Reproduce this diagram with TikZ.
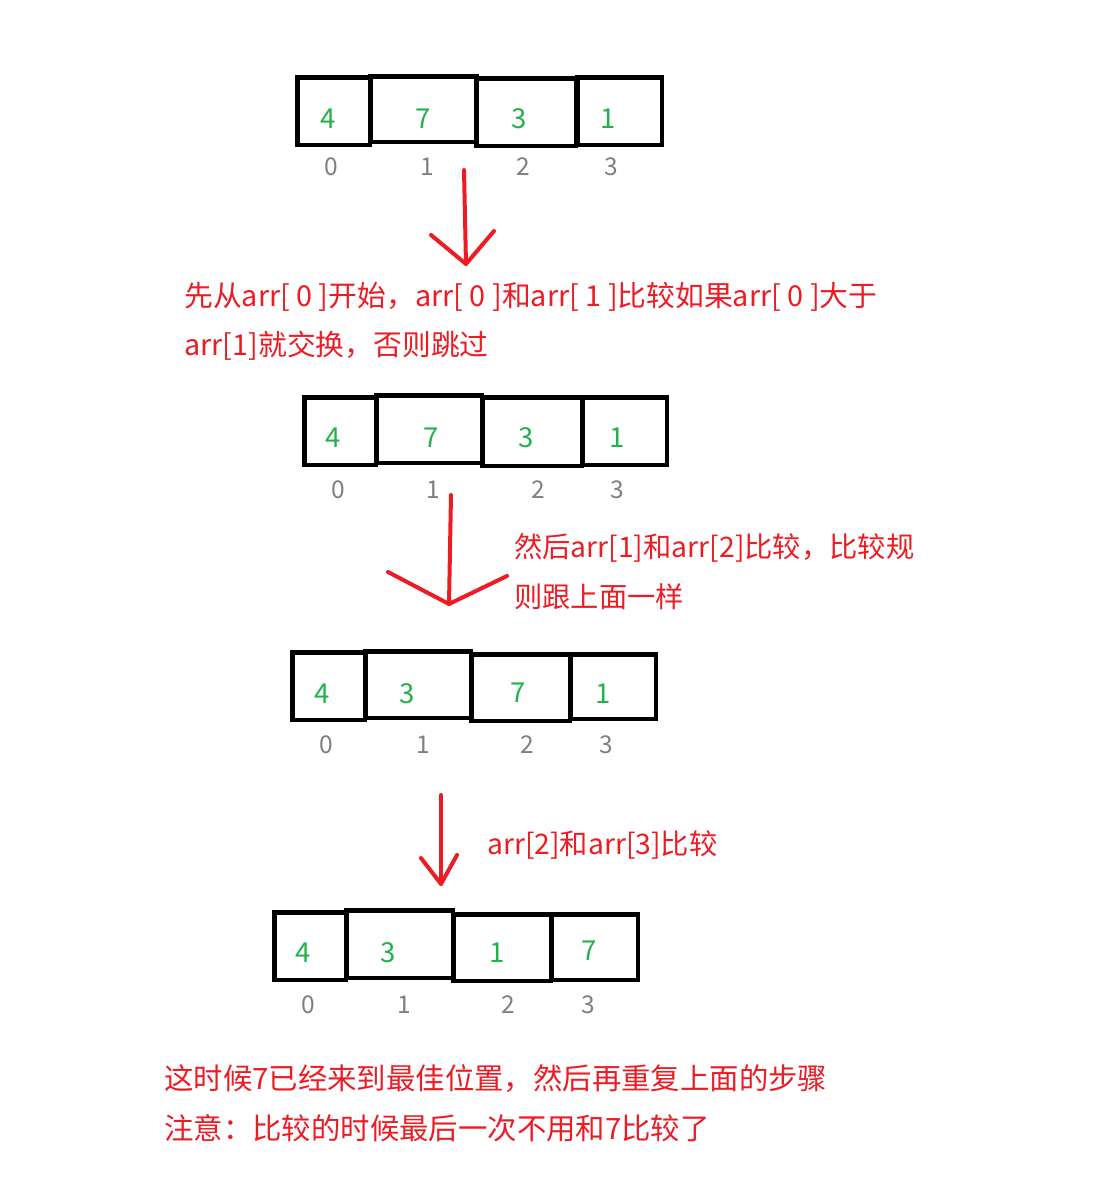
\documentclass[tikz,border=0pt]{standalone}
\usepackage{fontspec}
\setmainfont{Noto Sans CJK SC}
\definecolor{myred}{HTML}{ED1C24}
\definecolor{mygreen}{HTML}{22B14C}
\definecolor{mygray}{HTML}{7F7F7F}
\newcommand\cellbox[5]{\node[cell,minimum width={#4-#2-4.5},minimum height={#5-#3-4.5}] (#1) at ({(#2+#4)/2},{(#3+#5)/2}) {};}
\begin{document}
\begin{tikzpicture}[x=1pt,y=-1pt,
  cell/.style={draw=black,line width=4.5pt,inner sep=0pt,outer sep=0pt},
  val/.style={text=mygreen,inner sep=0pt,font=\fontsize{27.5}{27.5}\selectfont},
  idx/.style={text=mygray,inner sep=0pt,font=\fontsize{24.5}{24.5}\selectfont},
  note/.style={text=myred,inner sep=0pt,anchor=west,font=\fontsize{28.3}{28.3}\selectfont},
  bignote/.style={note,font=\fontsize{29.4}{29.4}\selectfont},
  redline/.style={draw=myred,line width=4pt,line cap=round,line join=round}]
\useasboundingbox (0,0) rectangle (1111,1192);
% array 1
\cellbox{a1c0}{295}{75}{372}{147}
\cellbox{a1c1}{368}{74}{479}{144}
\cellbox{a1c2}{474}{76}{578}{148}
\cellbox{a1c3}{575}{75}{664}{147}
\node[val] (a1v0) at (328,119) {4};
\node[val] (a1v1) at (423,119) {7};
\node[val] (a1v2) at (519,119) {3};
\node[val] (a1v3) at (608,119) {1};
\node[idx] (a1i0) at (331,167) {0};
\node[idx] (a1i1) at (427,167) {1};
\node[idx] (a1i2) at (523,167) {2};
\node[idx] (a1i3) at (611,167) {3};
% arrow 1
\coordinate (r1top) at (464,170);
\coordinate (r1tip) at (466,264);
\coordinate (r1l) at (431,235);
\coordinate (r1r) at (494,231);
\draw[redline] (r1top) -- (r1tip);
\draw[redline] (r1l) -- (r1tip) -- (r1r);
\node[note,font=\fontsize{28.8}{28.8}\selectfont] (t1a) at (184,297) {先从arr[ 0 ]开始，arr[ 0 ]和arr[ 1 ]比较如果arr[ 0 ]大于};
\node[note,font=\fontsize{28.8}{28.8}\selectfont] (t1b) at (184,346) {arr[1]就交换，否则跳过};
% array 2
\cellbox{a2c0}{302}{395}{378}{467}
\cellbox{a2c1}{374}{393}{484}{465}
\cellbox{a2c2}{480}{395}{584}{468}
\cellbox{a2c3}{580}{395}{669}{467}
\node[val] (a2v0) at (333,438) {4};
\node[val] (a2v1) at (431,438) {7};
\node[val] (a2v2) at (526,438) {3};
\node[val] (a2v3) at (617,438) {1};
\node[idx] (a2i0) at (338,490) {0};
\node[idx] (a2i1) at (433,490) {1};
\node[idx] (a2i2) at (538,490) {2};
\node[idx] (a2i3) at (617,490) {3};
% arrow 2
\coordinate (r2top) at (451,495);
\coordinate (r2tip) at (449,604);
\coordinate (r2l) at (388,572);
\coordinate (r2r) at (507,576);
\draw[redline] (r2top) -- (r2tip);
\draw[redline] (r2l) -- (r2tip) -- (r2r);
\node[note] (t2a) at (514,548) {然后arr[1]和arr[2]比较，比较规};
\node[note] (t2b) at (514,597) {则跟上面一样};
% array 3
\cellbox{a3c0}{290}{650}{367}{722}
\cellbox{a3c1}{363}{649}{473}{720}
\cellbox{a3c2}{469}{652}{572}{723}
\cellbox{a3c3}{568}{652}{658}{721}
\node[val] (a3v0) at (322,694) {4};
\node[val] (a3v1) at (407,694) {3};
\node[val] (a3v2) at (518,693) {7};
\node[val] (a3v3) at (603,694) {1};
\node[idx] (a3i0) at (326,745) {0};
\node[idx] (a3i1) at (423,745) {1};
\node[idx] (a3i2) at (527,745) {2};
\node[idx] (a3i3) at (606,745) {3};
% arrow 3
\coordinate (r3top) at (441,795);
\coordinate (r3tip) at (441,884);
\coordinate (r3l) at (421,858);
\coordinate (r3r) at (457,855);
\draw[redline] (r3top) -- (r3tip);
\draw[redline] (r3l) -- (r3tip) -- (r3r);
\node[note] (t3) at (487,845) {arr[2]和arr[3]比较};
% array 4
\cellbox{a4c0}{272}{910}{348}{982}
\cellbox{a4c1}{344}{908}{455}{980}
\cellbox{a4c2}{451}{912}{553}{983}
\cellbox{a4c3}{549}{912}{640}{982}
\node[val] (a4v0) at (303,953) {4};
\node[val] (a4v1) at (388,953) {3};
\node[val] (a4v2) at (497,953) {1};
\node[val] (a4v3) at (589,951) {7};
\node[idx] (a4i0) at (308,1005) {0};
\node[idx] (a4i1) at (404,1005) {1};
\node[idx] (a4i2) at (508,1005) {2};
\node[idx] (a4i3) at (588,1005) {3};
% bottom notes
\node[bignote] (t4a) at (164,1079) {这时候7已经来到最佳位置，然后再重复上面的步骤};
\node[bignote] (t4b) at (164,1128) {注意：比较的时候最后一次不用和7比较了};
\end{tikzpicture}
\end{document}
